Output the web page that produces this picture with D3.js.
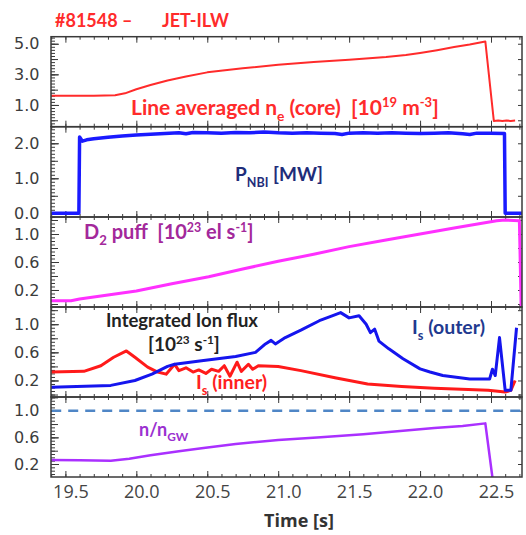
<!DOCTYPE html>
<html><head><meta charset="utf-8">
<script src="https://cdn.jsdelivr.net/npm/d3@7"></script>
<style>body{margin:0;background:#fff}svg{display:block}</style>
</head><body>
<svg id="chart" width="526" height="535"></svg>
<script>
// ---------------- DATA ----------------
const xTickValues = [19.5, 20.0, 20.5, 21.0, 21.5, 22.0, 22.5];

// Line averaged n_e (core) [1e19 m^-3]
const neTime  = [19.40,19.70,19.85,19.92,20.00,20.10,20.22,20.35,20.50,20.75,21.00,21.25,21.50,21.76,21.90,22.00,22.12,22.24,22.35,22.46,22.52,22.55,22.58,22.61,22.64,22.67];
const neValue = [1.60,1.60,1.64,1.76,2.03,2.30,2.60,2.86,3.13,3.40,3.62,3.80,3.96,4.14,4.27,4.40,4.58,4.78,4.95,5.15,-0.04,-0.02,-0.05,-0.02,-0.04,-0.02];

// P_NBI [MW]
const nbiTime  = [19.40,19.595,19.60,19.62,19.65,19.70,19.80,19.90,20.00,20.10,20.20,20.30,20.35,20.40,20.50,20.60,20.70,20.80,20.90,21.00,21.10,21.20,21.30,21.40,21.45,21.50,21.60,21.70,21.80,21.90,22.00,22.10,22.20,22.30,22.35,22.40,22.50,22.595,22.60,22.718];
const nbiValue = [0,0,2.18,2.06,2.10,2.13,2.17,2.21,2.24,2.26,2.28,2.30,2.27,2.31,2.30,2.29,2.31,2.30,2.32,2.30,2.29,2.30,2.29,2.28,2.25,2.29,2.30,2.29,2.30,2.29,2.28,2.29,2.30,2.27,2.25,2.29,2.29,2.28,0,0];

// D2 puff [1e23 el/s]
const puffTime  = [19.40,19.54,19.60,19.80,20.00,20.25,20.51,20.75,21.00,21.25,21.50,21.75,22.00,22.25,22.54,22.60,22.70,22.712,22.716];
const puffValue = [0.045,0.045,0.07,0.13,0.185,0.29,0.39,0.50,0.61,0.71,0.82,0.91,1.00,1.09,1.19,1.20,1.19,0.0,-0.05];

// Integrated ion flux [1e23 /s] : inner target
const innerTime  = [19.40,19.63,19.75,19.84,19.93,19.99,20.08,20.15,20.21,20.27,20.30,20.35,20.40,20.44,20.49,20.53,20.58,20.62,20.66,20.71,20.74,20.79,20.82,20.86,21.00,21.16,21.40,21.63,21.87,22.10,22.34,22.48,22.60,22.64,22.67];
const innerValue = [0.32,0.33,0.41,0.53,0.62,0.53,0.39,0.32,0.29,0.43,0.34,0.38,0.32,0.35,0.30,0.36,0.33,0.41,0.26,0.46,0.33,0.43,0.36,0.41,0.40,0.34,0.24,0.15,0.115,0.09,0.07,0.06,0.035,0.06,0.20];
// outer target
const outerTime  = [19.40,19.82,19.99,20.11,20.22,20.27,20.46,20.70,20.84,20.91,20.95,20.98,21.05,21.16,21.29,21.38,21.44,21.50,21.57,21.62,21.65,21.68,21.71,21.78,21.88,22.00,22.07,22.16,22.35,22.49,22.51,22.53,22.56,22.60,22.64,22.68];
const outerValue = [0.105,0.13,0.20,0.29,0.40,0.43,0.48,0.54,0.60,0.72,0.77,0.72,0.81,0.915,1.05,1.12,1.165,1.09,1.12,1.00,0.88,0.93,0.76,0.65,0.51,0.365,0.32,0.27,0.22,0.22,0.36,0.27,0.81,0.06,0.06,0.95];

// Greenwald fraction n/n_GW
const gwTime  = [19.40,19.60,19.82,19.95,20.10,20.30,20.46,20.70,21.00,21.30,21.60,21.88,22.10,22.30,22.46,22.51];
const gwValue = [0.26,0.255,0.25,0.28,0.33,0.39,0.435,0.50,0.56,0.60,0.645,0.70,0.74,0.77,0.81,0.0];
const gwLimit = 1.0;

// ---------------- LAYOUT ----------------
const svg = d3.select("#chart");
const left = 51, right = 522;
const x = d3.scaleLinear().domain([19.5, 22.5]).range([65.4, 491]);

const panels = [
  {top:36.7, bottom:126.7, domain:[-0.42,5.46], labels:[1,3,5], minorStep:0.2, majorStep:1, rightStep:1},
  {top:126.7, bottom:217, domain:[-0.106,2.474], labels:[0,1,2], minorStep:0.1, majorStep:0.5, rightStep:0.5},
  {top:217, bottom:307, domain:[-0.043,1.243], labels:[0.2,0.6,1.0], minorStep:0.05, majorStep:0.2, rightStep:0.2},
  {top:307, bottom:397, domain:[-0.035,1.245], labels:[0.2,0.6,1.0], minorStep:0.05, majorStep:0.2, rightStep:0.2},
  {top:397, bottom:477, domain:[0.005,1.206], labels:[0.2,0.6,1.0], minorStep:0.05, majorStep:0.2, rightStep:0.2}
];
panels.forEach(p => { p.y = d3.scaleLinear().domain(p.domain).range([p.bottom, p.top]); });

function stepValues(dom, step){
  const out=[]; const s=Math.ceil(dom[0]/step-1e-9), e=Math.floor(dom[1]/step+1e-9);
  for(let i=s;i<=e;i++) out.push(+(i*step).toFixed(4));
  return out;
}
const axisColor = "#3a3a3a";
const minorX = stepValues([19.4,22.72],0.1);

const defs = svg.append("defs");
panels.forEach((p,i)=>{
  defs.append("clipPath").attr("id","clip"+i).append("rect")
    .attr("x",left).attr("y",p.top).attr("width",right-left).attr("height",p.bottom-p.top);
});

function styleAxis(g){
  g.select(".domain").remove();
  g.selectAll("line").attr("stroke",axisColor).attr("stroke-width",1);
}

panels.forEach((p,i)=>{
  const g = svg.append("g");
  g.append("g").attr("transform",`translate(${left},0)`)
    .call(d3.axisLeft(p.y).tickValues(stepValues(p.domain,p.minorStep)).tickSize(-4).tickFormat(""))
    .call(styleAxis);
  g.append("g").attr("transform",`translate(${left},0)`)
    .call(d3.axisLeft(p.y).tickValues(stepValues(p.domain,p.majorStep)).tickSize(-7).tickFormat(""))
    .call(styleAxis);
  g.append("g").attr("transform",`translate(${left},0)`)
    .call(d3.axisLeft(p.y).tickValues(p.labels).tickSize(-8).tickPadding(11.5).tickFormat(d3.format(".1f")))
    .call(styleAxis)
    .call(a=>a.selectAll("text").attr("font-family","DejaVu Sans").attr("font-size",16).attr("fill","#3c3c3c"));
  g.append("g").attr("transform",`translate(${right},0)`)
    .call(d3.axisRight(p.y).tickValues(stepValues(p.domain,p.rightStep)).tickSize(-4).tickFormat(""))
    .call(styleAxis);
  g.append("g").attr("transform",`translate(0,${p.bottom})`)
    .call(d3.axisBottom(x).tickValues(minorX).tickSize(-3).tickFormat(""))
    .call(styleAxis);
  g.append("g").attr("transform",`translate(0,${p.bottom})`)
    .call(d3.axisBottom(x).tickValues(xTickValues).tickSize(-6).tickFormat(""))
    .call(styleAxis);
  g.append("g").attr("transform",`translate(0,${p.top})`)
    .call(d3.axisTop(x).tickValues(minorX).tickSize(-3).tickFormat(""))
    .call(styleAxis);
  g.append("g").attr("transform",`translate(0,${p.top})`)
    .call(d3.axisTop(x).tickValues(xTickValues).tickSize(-6).tickFormat(""))
    .call(styleAxis);
});

svg.append("g").attr("transform",`translate(0,${panels[4].bottom})`)
  .call(d3.axisBottom(x).tickValues(xTickValues).tickSize(0).tickPadding(8).tickFormat(d3.format(".1f")))
  .call(a=>a.select(".domain").remove())
  .call(a=>a.selectAll("text").attr("dx",5).attr("font-family","Open Sans").attr("font-size",18).attr("fill","#444"));

svg.append("text").attr("x",299).attr("y",527).attr("text-anchor","middle")
  .attr("font-family","Open Sans").attr("font-weight","bold").attr("font-size",18).attr("fill","#333")
  .text("Time [s]");

// ---------------- LINES ----------------
function drawLine(i, ts, vs, color, width, dash){
  const p = panels[i];
  const line = d3.line().x(d=>x(d[0])).y(d=>p.y(d[1]));
  const path = svg.append("path").datum(ts.map((t,k)=>[t,vs[k]]))
    .attr("clip-path",`url(#clip${i})`)
    .attr("d",line).attr("fill","none").attr("stroke",color).attr("stroke-width",width)
    .attr("stroke-linejoin","round");
  if(dash) path.attr("stroke-dasharray",dash);
}
drawLine(0, neTime, neValue, "#ff2b2b", 2);
drawLine(1, nbiTime, nbiValue, "#1a1aff", 3.5);
drawLine(2, puffTime, puffValue, "#ff30ff", 3);
drawLine(3, innerTime, innerValue, "#ff1a1a", 3);
drawLine(3, outerTime, outerValue, "#1515ee", 3);
drawLine(4, [19.40,22.718], [gwLimit,gwLimit], "#4f86c6", 2.5, "10,7");
drawLine(4, gwTime, gwValue, "#aa30ff", 2.5);

panels.forEach(p=>{
  svg.append("rect").attr("x",left).attr("y",p.top).attr("width",right-left).attr("height",p.bottom-p.top)
    .attr("fill","none").attr("stroke",axisColor).attr("stroke-width",1.5);
});

// ---------------- TEXT ----------------
function rich(xp, yp, parts, size, color){
  const t = svg.append("text").attr("x",xp).attr("y",yp).attr("xml:space","preserve")
    .style("white-space","pre")
    .attr("font-family","Lato").attr("font-weight","bold").attr("font-size",size).attr("fill",color);
  let off = 0;
  parts.forEach(pt=>{
    let target = 0, fs = size;
    if(pt.sub){ target = size*0.3; fs = size*0.66; }
    if(pt.sup){ target = -size*0.36; fs = size*0.62; }
    t.append("tspan").attr("dy", target-off).attr("font-size",fs).text(pt.t);
    off = target;
  });
  return t;
}
rich(55, 26.5, [{t:"#81548 –"}], 18, "#ff2b2b");
rich(162, 26.5, [{t:"JET-ILW"}], 18, "#ff2b2b");
rich(131, 114.5, [{t:"Line averaged n"},{t:"e",sub:true},{t:" (core)  [10"},{t:"19",sup:true},{t:" m"},{t:"-3",sup:true},{t:"]"}], 21, "#ff2b2b");
rich(235, 181, [{t:"P"},{t:"NBI",sub:true},{t:" [MW]"}], 19, "#1f2d7a");
rich(84, 239, [{t:"D"},{t:"2",sub:true},{t:" puff  [10"},{t:"23",sup:true},{t:" el s"},{t:"-1",sup:true},{t:"]"}], 20, "#a3289b");
rich(106, 327, [{t:"Integrated Ion flux"}], 18.5, "#222");
rich(148, 351, [{t:"[10"},{t:"23",sup:true},{t:" s"},{t:"-1",sup:true},{t:"]"}], 19, "#222");
rich(412, 334, [{t:"I"},{t:"s",sub:true},{t:" (outer)"}], 19.5, "#1f3a8f");
rich(196, 389, [{t:"I"},{t:"s",sub:true},{t:" (inner)"}], 19.5, "#ff2020");
rich(139, 436, [{t:"n/n"},{t:"GW",sub:true}], 18, "#9b30d0");
</script>
</body></html>
